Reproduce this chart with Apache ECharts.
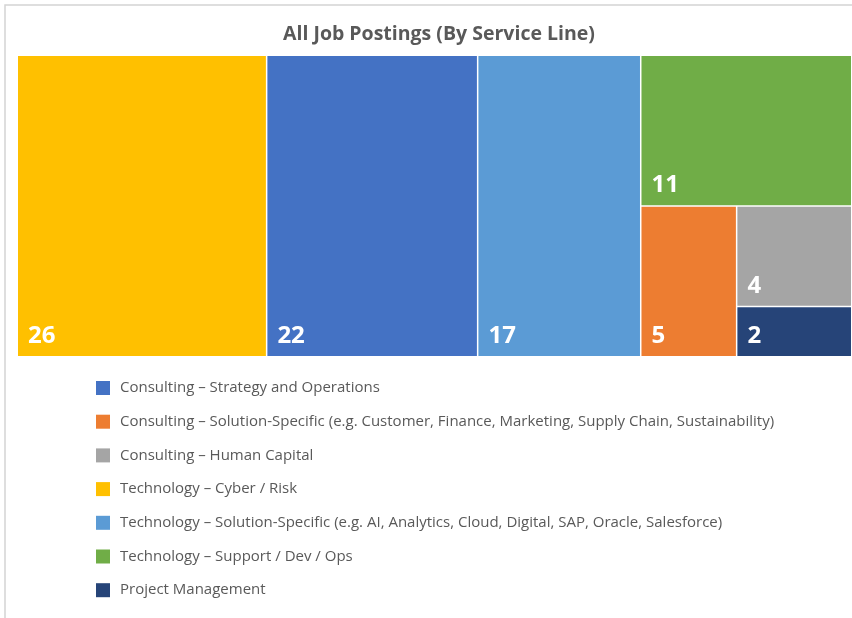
<!DOCTYPE html>
<html>
<head>
<meta charset="utf-8">
<script src="https://cdn.jsdelivr.net/npm/echarts@6/dist/echarts.min.js"></script>
<style>
  html, body { margin: 0; padding: 0; background: #fff; }
  #chart { width: 852px; height: 618px; }
</style>
</head>
<body>
<div id="chart"></div>
<script>
    // service lines, in legend order
    var serviceLines = [
        'Consulting – Strategy and Operations',
        'Consulting – Solution-Specific (e.g. Customer, Finance, Marketing, Supply Chain, Sustainability)',
        'Consulting – Human Capital',
        'Technology – Cyber / Risk',
        'Technology – Solution-Specific (e.g. AI, Analytics, Cloud, Digital, SAP, Oracle, Salesforce)',
        'Technology – Support / Dev / Ops',
        'Project Management'
    ];
    var postings = [22, 5, 4, 26, 17, 11, 2];
    var colors = ['#4472C4', '#ED7D31', '#A5A5A5', '#FFC000', '#5B9BD5', '#70AD47', '#264478'];

    var chart = echarts.init(document.getElementById('chart'));

    var treeData = serviceLines.map(function (name, i) {
        return { name: name, value: postings[i], itemStyle: { color: colors[i] } };
    });

    // legend drawn by hand (treemap has no legend)
    var legendItems = [];
    serviceLines.forEach(function (name, i) {
        var y = 381 + i * 33.7;
        legendItems.push({
            type: 'rect',
            shape: { x: 96, y: y, width: 14, height: 14 },
            style: { fill: colors[i] }
        });
        legendItems.push({
            type: 'text',
            x: 120, y: y + 7,
            style: {
                text: name,
                fill: '#595959',
                font: '15px "Open Sans"',
                verticalAlign: 'middle'
            }
        });
    });

    var option = {
        backgroundColor: '#fff',
        title: {
            text: 'All Job Postings (By Service Line)',
            left: 278,
            top: 19,
            textStyle: {
                color: '#595959',
                fontSize: 19.5,
                fontWeight: 'bold',
                fontFamily: 'Open Sans'
            }
        },
        graphic: [
            {
                type: 'polyline',
                shape: { points: [[5, 618], [5, 5], [852, 5]] },
                style: { stroke: '#d4d4d4', lineWidth: 1.5, fill: null }
            }
        ].concat(legendItems),
        series: [
            {
                type: 'treemap',
                left: 18,
                top: 56,
                width: 833,
                height: 300,
                roam: false,
                nodeClick: false,
                squareRatio: 1,
                breadcrumb: { show: false },
                sort: 'desc',
                label: {
                    show: true,
                    position: 'insideBottomLeft',
                    formatter: '{c}',
                    color: '#fff',
                    fontSize: 24,
                    fontWeight: 'bold',
                    fontFamily: 'Open Sans',
                    distance: 3,
                    padding: [0, 0, 5, 7]
                },
                upperLabel: { show: false },
                itemStyle: { borderColor: '#fff', borderWidth: 0, gapWidth: 1 },
                levels: [
                    { itemStyle: { borderWidth: 0, gapWidth: 1.5, borderColor: '#fff' } }
                ],
                data: treeData
            }
        ]
    };

    chart.setOption(option);
</script>
</body>
</html>
